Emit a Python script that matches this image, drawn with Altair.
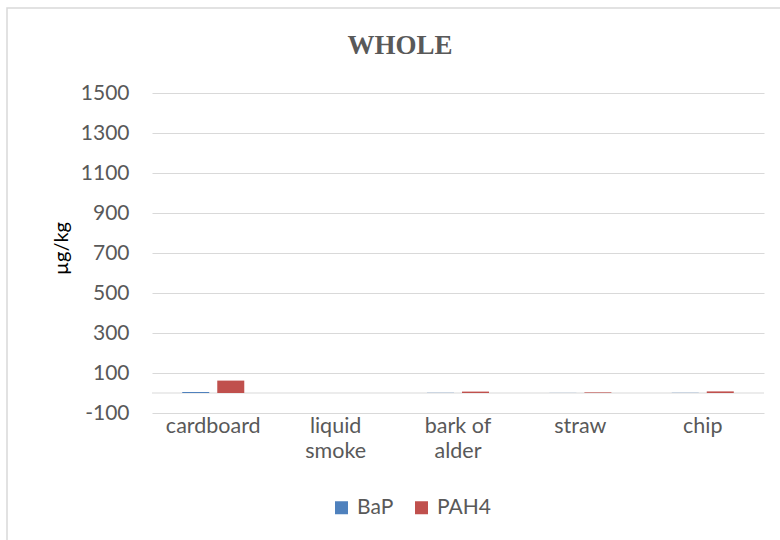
import altair as alt
import pandas as pd

categories = ["cardboard", "liquid smoke", "bark of alder", "straw", "chip"]
series = ["BaP", "PAH4"]
bap = [5, 0.3, 1, 0.5, 1]
pah4 = [62, 0.5, 7, 3, 8]
y_ticks = [-100, 100, 300, 500, 700, 900, 1100, 1300, 1500]
colors = ["#4F81BD", "#C0504D"]
title_text = "WHOLE"
y_title = "µg/kg"

rows = []
for c, b, p in zip(categories, bap, pah4):
    rows.append({"cat": c, "series": "BaP", "value": b})
    rows.append({"cat": c, "series": "PAH4", "value": p})
df = pd.DataFrame(rows)

FONT = "Lato"
GRAY = "#595959"
GRID = "#d9d9d9"

label_expr = ("datum.label == 'liquid smoke' ? ['liquid', 'smoke'] : "
              "datum.label == 'bark of alder' ? ['bark of', 'alder'] : datum.label")

bars = alt.Chart(df).mark_bar().encode(
    x=alt.X("cat:N", sort=categories,
            scale=alt.Scale(paddingInner=0.493, paddingOuter=0.247),
            axis=alt.Axis(title=None, labelAngle=0, labelExpr=label_expr,
                          labelFont=FONT, labelFontSize=21.5, labelColor=GRAY,
                          labelPadding=2, labelLineHeight=25, ticks=False,
                          domain=False, grid=False, labelBaseline="top",
                          labelOverlap=False)),
    xOffset=alt.XOffset("series:N", sort=series,
                        scale=alt.Scale(paddingInner=0.229, paddingOuter=0)),
    y=alt.Y("value:Q",
            scale=alt.Scale(domain=[-100, 1500], nice=False, zero=False),
            axis=alt.Axis(values=y_ticks, tickCount=20, title=y_title, titleFont=FONT,
                          titleFontSize=20, titleFontWeight="normal", titleColor="#000000",
                          titleX=-91, titleY=155, titleAngle=-90, titleAlign="center",
                          titleBaseline="middle",
                          labelExpr="'' + datum.value", labelOverlap=False,
                          labelFont=FONT, labelFontSize=21, labelColor=GRAY,
                          labelPadding=23, ticks=False, domain=False,
                          grid=True, gridColor=GRID, gridWidth=1)),
    y2=alt.datum(0),
    color=alt.Color("series:N", sort=series,
                    scale=alt.Scale(domain=series, range=colors),
                    legend=alt.Legend(title=None, orient="none", direction="horizontal",
                                      legendX=179, legendY=404, symbolType="square",
                                      symbolSize=169, symbolStrokeWidth=0,
                                      labelFont=FONT, labelFontSize=21, labelColor=GRAY,
                                      labelOffset=5, columnPadding=17)),
)

zero_line = alt.Chart(pd.DataFrame({"z": [0]})).mark_rule(color=GRID, strokeWidth=1).encode(
    y=alt.datum(0)
)

title = alt.Chart(pd.DataFrame({"t": [title_text]})).mark_text(
    font="Liberation Serif", fontSize=27, fontWeight="bold", color=GRAY,
    align="center", baseline="alphabetic"
).encode(text="t:N", x=alt.value(248), y=alt.value(-39))

frame = alt.Chart(pd.DataFrame({"f": [0]})).mark_rect(
    fillOpacity=0, stroke=GRID, strokeWidth=1.5
).encode(x=alt.value(-145), x2=alt.value(700), y=alt.value(-85), y2=alt.value(520))

chart = alt.layer(frame, zero_line, bars, title).properties(
    width=612, height=320,
    autosize=alt.AutoSizeParams(type="none"),
    padding={"left": 152, "top": 93, "right": 16, "bottom": 127},
    background="white",
).configure_view(stroke=None)

chart.save("out.html", embed_options={"renderer": "svg", "actions": False})
